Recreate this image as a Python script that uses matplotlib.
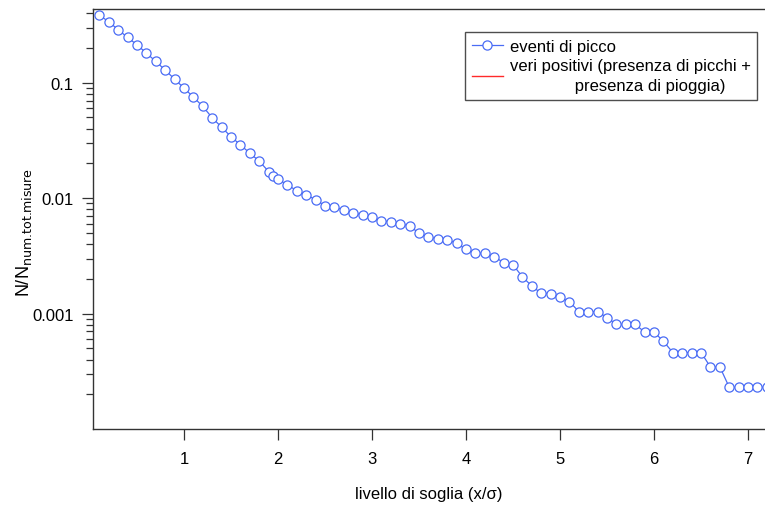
import numpy as np
import matplotlib
matplotlib.use("Agg")
import matplotlib.pyplot as plt
from matplotlib.ticker import LogLocator, NullFormatter, FixedLocator, FixedFormatter

plt.rcParams["font.family"] = ["Liberation Sans", "DejaVu Sans"]
plt.rcParams["mathtext.default"] = "regular"

## Data -------------------------------------------------------
soglia = [0.1, 0.2, 0.3, 0.4, 0.5, 0.6, 0.7, 0.8, 0.9, 1.0,
          1.1, 1.2, 1.3, 1.4, 1.5, 1.6, 1.7, 1.8, 1.9, 1.95, 2.0,
          2.1, 2.2, 2.3, 2.4, 2.5, 2.6, 2.7, 2.8, 2.9, 3.0,
          3.1, 3.2, 3.3, 3.4, 3.5, 3.6, 3.7, 3.8, 3.9, 4.0,
          4.1, 4.2, 4.3, 4.4, 4.5, 4.6, 4.7, 4.8, 4.9, 5.0,
          5.1, 5.2, 5.3, 5.4, 5.5, 5.6, 5.7, 5.8, 5.9, 6.0,
          6.1, 6.2, 6.3, 6.4, 6.5, 6.6, 6.7, 6.8, 6.9, 7.0,
          7.1, 7.2]
eventi_picco = [0.384, 0.336, 0.287, 0.246, 0.2125, 0.180, 0.1526, 0.1283, 0.1072, 0.0896,
                0.0749, 0.0622, 0.0496, 0.0411, 0.0340, 0.0289, 0.0245, 0.0209, 0.0170, 0.0155, 0.0146,
                0.0130, 0.0116, 0.0107, 0.00967, 0.00858, 0.00836, 0.00790, 0.00747, 0.00712, 0.00681,
                0.00636, 0.00623, 0.00599, 0.00576, 0.00496, 0.00460, 0.00444, 0.00436, 0.00406, 0.00360,
                0.00332, 0.00334, 0.00310, 0.00277, 0.00264, 0.00208, 0.00173, 0.00150, 0.00149, 0.00138,
                0.00127, 0.00104, 0.00104, 0.00104, 0.000923, 0.000806, 0.000806, 0.000806, 0.000692, 0.000692,
                0.000575, 0.000460, 0.000460, 0.000460, 0.000460, 0.000345, 0.000345, 0.000230, 0.000230, 0.000230,
                0.000230, 0.000230]
veri_positivi_x = []
veri_positivi_y = []

y_major = [0.001, 0.01, 0.1]
y_major_labels = ["0.001", "0.01", "0.1"]
x_major = [1, 2, 3, 4, 5, 6, 7]

## Figure ------------------------------
fig = plt.figure(figsize=(7.65, 5.06), dpi=100)
ax = fig.add_axes([0.1216, 0.150, 0.8784, 0.830])

ax.plot(soglia, eventi_picco, color="#4a6cf5", linewidth=0.9,
        marker="o", markersize=6.6, markerfacecolor="white",
        markeredgecolor="#4a6cf5", markeredgewidth=0.9,
        label="eventi di picco", zorder=3)
ax.plot(veri_positivi_x, veri_positivi_y, color="#ff2a2a", linewidth=1.0,
        label="veri positivi (presenza di picchi +\n              presenza di pioggia)")

ax.set_yscale("log")
ax.set_xlim(0.032, 7.18)
ax.set_ylim(1e-4, 0.433)

ax.yaxis.set_major_locator(FixedLocator(y_major))
ax.yaxis.set_major_formatter(FixedFormatter(y_major_labels))
ax.yaxis.set_minor_locator(LogLocator(base=10, subs=np.arange(2, 10)))
ax.yaxis.set_minor_formatter(NullFormatter())
ax.set_xticks(x_major)
ax.set_xticklabels([str(v) for v in x_major])

for side in ["left", "bottom", "top"]:
    ax.spines[side].set_color("#333333")
    ax.spines[side].set_linewidth(1.0)
ax.spines["right"].set_visible(False)

ax.tick_params(axis="both", which="major", direction="out", length=8,
               width=0.9, color="#333333", labelsize=12, pad=6)
ax.tick_params(axis="y", which="minor", direction="out", length=5,
               width=0.9, color="#333333")
ax.tick_params(axis="x", which="minor", length=0)
ax.tick_params(axis="x", which="major", pad=8)

ax.set_xlabel("livello di soglia (x/\u03c3)", fontsize=12, labelpad=14)
ax.set_ylabel(r"N/N$_{\text{num.tot.misure}}$", fontsize=13)
ax.yaxis.set_label_coords(-0.088, 0.47)

leg = ax.legend(loc="upper left", bbox_to_anchor=(0.5536, 0.945),
                borderaxespad=0, frameon=True, fancybox=False, fontsize=12,
                handlelength=1.86, handletextpad=0.42, borderpad=0.4,
                labelspacing=0.25)
for t in leg.get_texts():
    t.set_linespacing(1.45)
leg.get_frame().set_edgecolor("#222222")
leg.get_frame().set_linewidth(1.0)

fig.savefig("out.png", dpi=100)
